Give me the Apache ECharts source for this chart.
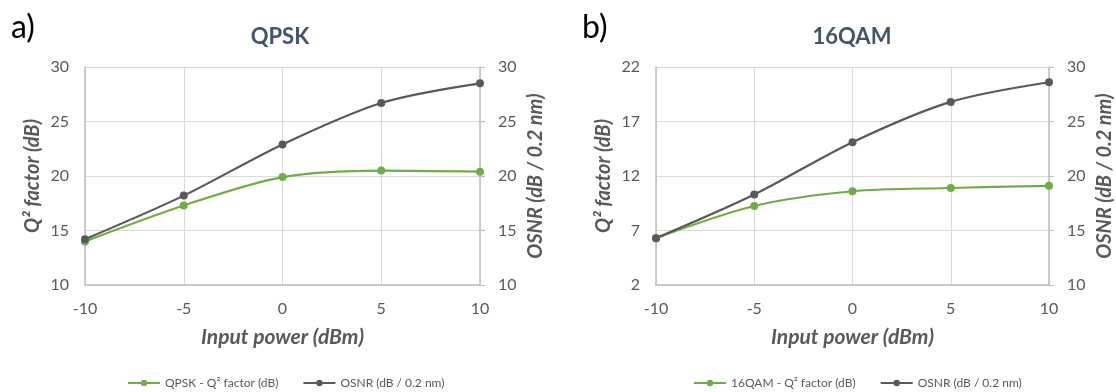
<!DOCTYPE html>
<html><head><meta charset="utf-8">
<script src="https://cdn.jsdelivr.net/npm/echarts@6/dist/echarts.min.js"></script>
<style>html,body{margin:0;padding:0;background:#fff}#c{width:1116px;height:392px}</style>
</head><body><div id="c"></div>
<script>
const xValues = [-10, -5, 0, 5, 10];
const qpskQ = [14.0, 17.3, 19.9, 20.5, 20.4];
const qpskOsnr = [14.2, 18.2, 22.9, 26.7, 28.5];
const qam16Q = [6.3, 9.25, 10.6, 10.9, 11.1];
const qam16Osnr = [14.3, 18.3, 23.1, 26.8, 28.6];
const seriesNames = ['QPSK - Q² factor (dB)', 'OSNR (dB / 0.2 nm)', '16QAM - Q² factor (dB)'];
const panelTitles = ['QPSK', '16QAM'];
const panelLabels = ['a)', 'b)'];
const xName = 'Input power (dBm)';
const yLeftName = 'Q² factor (dB)';
const yRightName = 'OSNR (dB / 0.2 nm)';

const GREEN = '#70AD47', GRAY = '#595959', GRID = '#d9d9d9', TXT = '#595959', AX = '#bfbfbf';
const font = 'Lato, "Open Sans", sans-serif';
const pairs = arr => xValues.map((x, i) => [x, arr[i]]);
const nameStyle = sz => ({fontFamily: font, fontSize: sz, fontWeight: 'bold', fontStyle: 'italic', color: TXT});

function xAx(gi) {
  return {type: 'value', gridIndex: gi, min: -10, max: 10, interval: 5,
    name: xName, nameLocation: 'middle', nameGap: 42, nameTextStyle: nameStyle(21),
    axisLine: {show: true, onZero: false, lineStyle: {color: AX, width: 1.5}},
    axisTick: {show: false},
    axisLabel: {fontFamily: font, fontSize: 16, color: TXT, margin: 16},
    splitLine: {show: true, lineStyle: {color: GRID}}};
}
function yAx(gi, min, max, interval, pos, name, gap) {
  return {type: 'value', gridIndex: gi, min, max, interval, position: pos,
    name, nameLocation: 'middle', nameGap: gap, nameRotate: 90, nameTextStyle: nameStyle(20),
    axisLine: {show: true, onZero: false, lineStyle: {color: AX, width: 1.5}},
    axisTick: {show: pos === 'right', length: 5, lineStyle: {color: AX}},
    axisLabel: {fontFamily: font, fontSize: 16, color: TXT, margin: pos === 'right' ? 18 : 16},
    splitLine: {show: pos === 'left', lineStyle: {color: GRID}}};
}
function ser(name, data, color, xi, yi) {
  return {type: 'line', name, data, xAxisIndex: xi, yAxisIndex: yi, smooth: 0.3,
    symbol: 'circle', symbolSize: 8, itemStyle: {color}, lineStyle: {color, width: 2.2}};
}
function leg(names, left) {
  return {data: names, left, top: 372, itemWidth: 32, itemHeight: 8, itemGap: 24,
    textStyle: {fontFamily: font, fontSize: 12, color: TXT}, selectedMode: false};
}

const chart = echarts.init(document.getElementById('c'), null, {renderer: 'canvas'});
chart.setOption({
  animation: false,
  title: [
    {text: panelLabels[0], left: 6, top: 7, textStyle: {fontFamily: 'Lato, sans-serif', fontSize: 32, fontWeight: 'normal', color: '#000'}},
    {text: panelLabels[1], left: 577, top: 7, textStyle: {fontFamily: 'Lato, sans-serif', fontSize: 32, fontWeight: 'normal', color: '#000'}},
    {text: panelTitles[0], left: 275, top: 21, textAlign: 'center', textStyle: {fontFamily: font, fontSize: 22, fontWeight: 'bold', color: '#44546A'}},
    {text: panelTitles[1], left: 847, top: 21, textAlign: 'center', textStyle: {fontFamily: font, fontSize: 22, fontWeight: 'bold', color: '#44546A'}}
  ],
  legend: [
    leg([seriesNames[0], seriesNames[1]], 122),
    leg([seriesNames[2], seriesNames[1] + ' '], 688)
  ],
  grid: [
    {left: 85, width: 395, top: 67, height: 218},
    {left: 656, width: 395, top: 67, height: 218}
  ],
  xAxis: [xAx(0), xAx(1)],
  yAxis: [
    yAx(0, 10, 30, 5, 'left', yLeftName, 42),
    yAx(0, 10, 30, 5, 'right', yRightName, 46),
    yAx(1, 2, 22, 5, 'left', yLeftName, 42),
    yAx(1, 10, 30, 5, 'right', yRightName, 46)
  ],
  series: [
    ser(seriesNames[0], pairs(qpskQ), GREEN, 0, 0),
    ser(seriesNames[1], pairs(qpskOsnr), GRAY, 0, 1),
    ser(seriesNames[2], pairs(qam16Q), GREEN, 1, 2),
    ser(seriesNames[1] + ' ', pairs(qam16Osnr), GRAY, 1, 3)
  ]
});
</script></body></html>
